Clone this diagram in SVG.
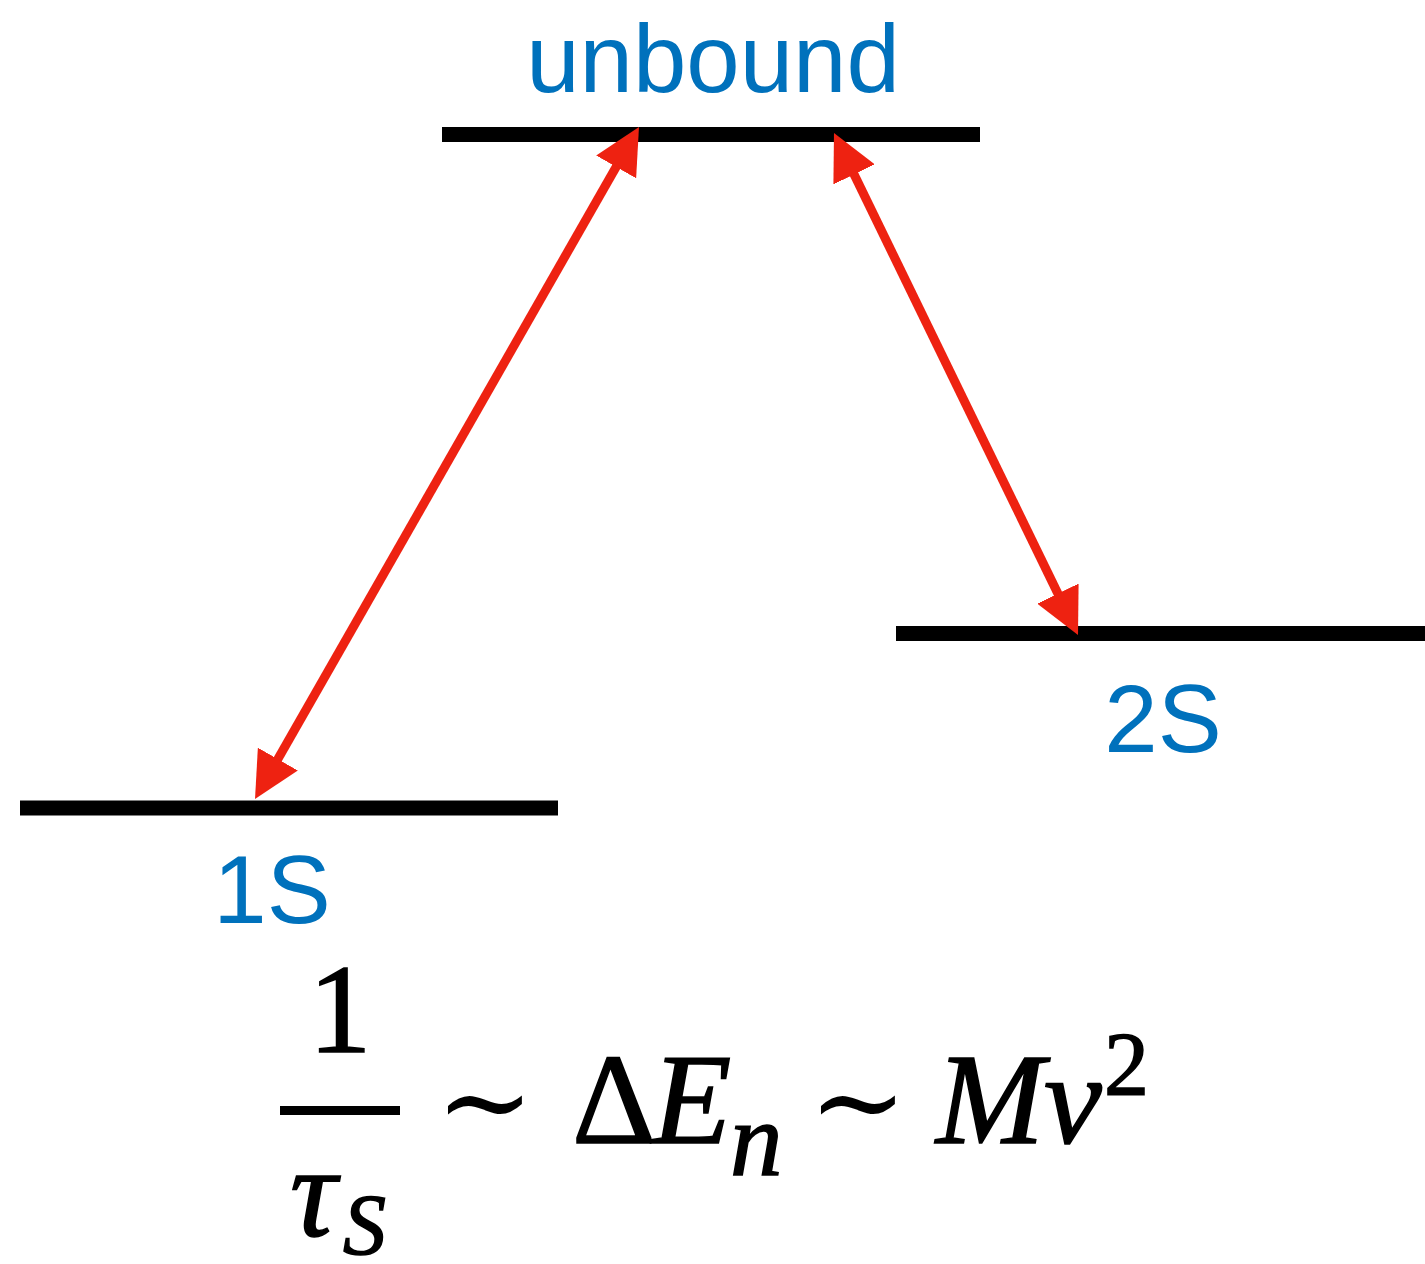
<svg xmlns="http://www.w3.org/2000/svg" width="1425" height="1264" viewBox="0 0 1425 1264">
<style>
.lbl{font-family:"Liberation Sans",Arial,sans-serif;font-size:96px;fill:#0071bc;text-anchor:middle}
.bar{fill:#000}
.conn{stroke:#ee2211;stroke-width:9;fill:none}
.m{font-family:"Liberation Serif","Times New Roman",serif;fill:#000;stroke:#000;stroke-width:1.5}
.i{font-style:italic}
.sim{font-family:"DejaVu Serif","Liberation Serif",serif;fill:#000;font-size:118px;text-anchor:middle}
</style>
<defs>
<marker id="ah" markerUnits="userSpaceOnUse" viewBox="0 0 46 46" markerWidth="46" markerHeight="46" refX="16" refY="23" orient="auto-start-reverse">
<path d="M0,0 L46,23 L0,46 z" fill="#ee2211"/>
</marker>
</defs>
<rect width="1425" height="1264" fill="#fff"/>
<g id="unbound">
<rect class="bar" x="442" y="127" width="538" height="15"/>
<text class="lbl" x="713" y="92">unbound</text>
</g>
<g id="s2">
<rect class="bar" x="896" y="626" width="529" height="15"/>
<text class="lbl" x="1163" y="752">2S</text>
</g>
<g id="s1">
<rect class="bar" x="20" y="800.5" width="538" height="15"/>
<text class="lbl" x="272" y="923">1S</text>
</g>
<g id="connectors">
<line class="conn" x1="269.9" y1="773" x2="624.1" y2="153" marker-start="url(#ah)" marker-end="url(#ah)"/>
<line class="conn" x1="847.1" y1="160" x2="1064.9" y2="608" marker-start="url(#ah)" marker-end="url(#ah)"/>
</g>
<g id="formula">
<text class="m" x="340" y="1052" font-size="126" text-anchor="middle">1</text>
<rect x="280" y="1106" width="120" height="9" fill="#000"/>
<text class="m i" x="290" y="1236" font-size="130">τ</text>
<text class="m i" x="343" y="1254" font-size="86">S</text>
<text class="sim" x="485" y="1142">∼</text>
<text class="m" x="572" y="1143" font-size="130">Δ</text>
<text class="m i" x="652" y="1143" font-size="130">E</text>
<text class="m i" x="730" y="1175" font-size="105">n</text>
<text class="sim" x="858" y="1142">∼</text>
<text class="m i" x="936" y="1143" font-size="130">M</text>
<text class="m i" x="1044" y="1143" font-size="130">v</text>
<text class="m" x="1104" y="1095" font-size="90">2</text>
</g>
</svg>
